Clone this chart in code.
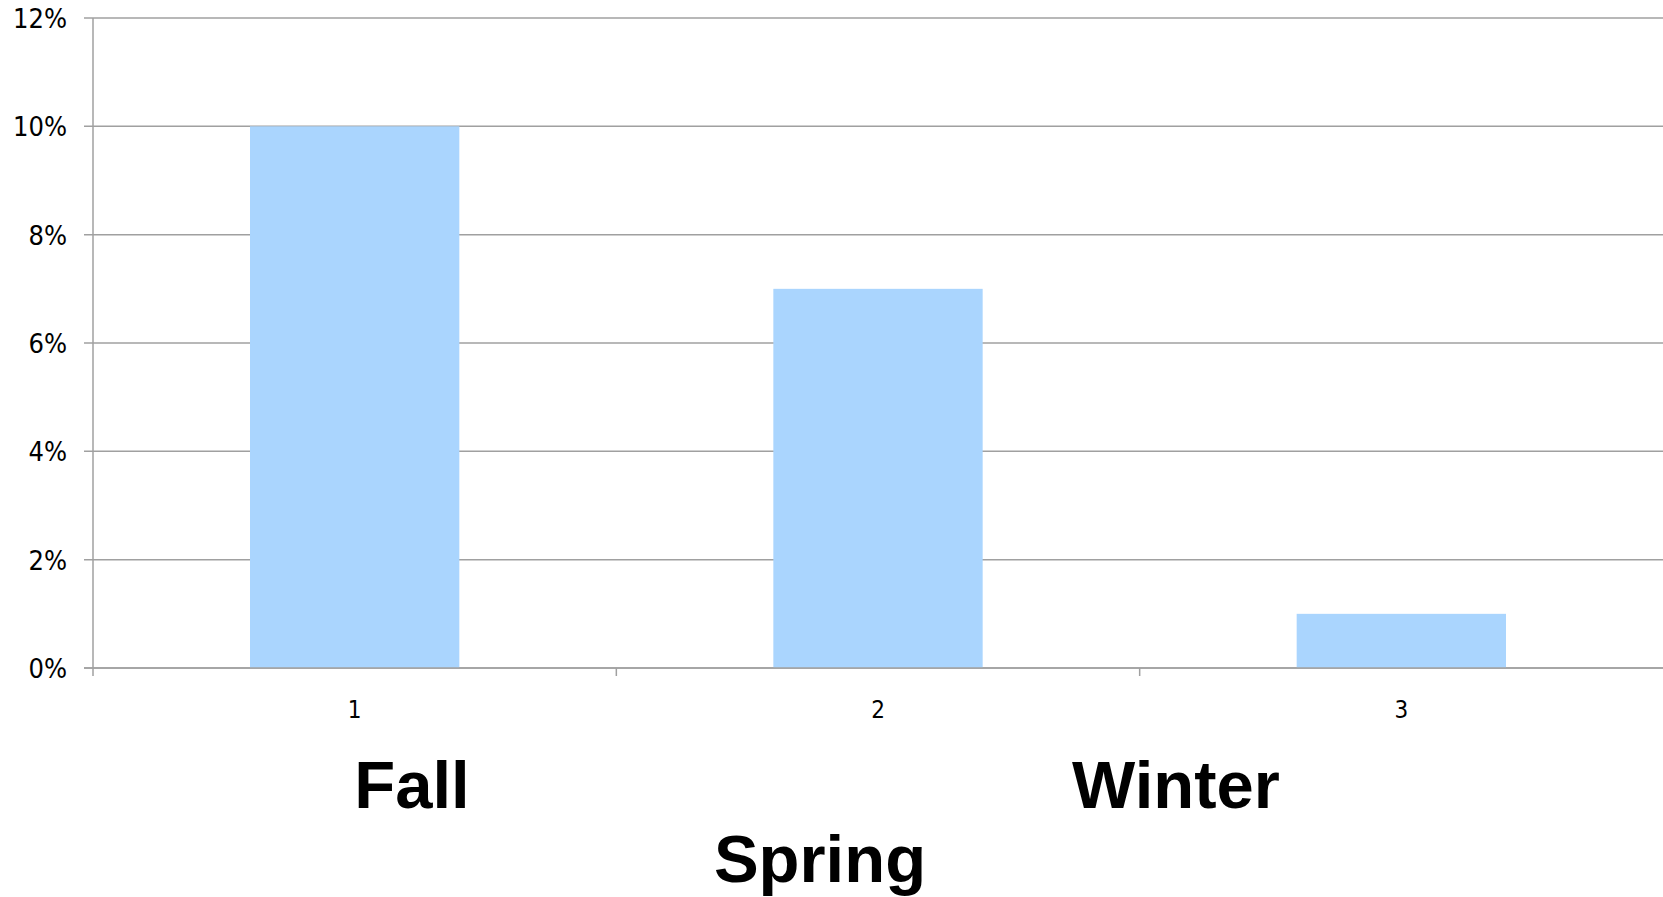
<!DOCTYPE html>
<html>
<head>
<meta charset="utf-8">
<script src="https://cdn.jsdelivr.net/npm/d3@7"></script>
<style>
  body { margin: 0; background: #fff; }
  #chart svg { display: block; }
</style>
</head>
<body>
<div id="chart"></div>
<script>
var categories = ['1', '2', '3'];
var values = [0.10, 0.07, 0.01];
var yTicks = [0, 0.02, 0.04, 0.06, 0.08, 0.10, 0.12];
var seasons = ['Fall', 'Spring', 'Winter'];

var width = 1663,
    height = 897;
var margin = { top: 18, right: 0, bottom: 229, left: 93 };

var svg = d3
    .select('#chart')
    .append('svg')
    .attr('width', width)
    .attr('height', height);

var x = d3
    .scaleBand()
    .domain(categories)
    .range([margin.left, width - margin.right])
    .paddingInner(0)
    .paddingOuter(0);

var y = d3
    .scaleLinear()
    .domain([0, 0.12])
    .range([height - margin.bottom, margin.top]);

var gridColor = '#a0a0a0';

// horizontal gridlines with short outward ticks
svg.append('g')
    .selectAll('line')
    .data(yTicks)
    .enter()
    .append('line')
    .attr('x1', margin.left - 9)
    .attr('x2', width - margin.right)
    .attr('y1', function(d) { return y(d); })
    .attr('y2', function(d) { return y(d); })
    .attr('stroke', gridColor)
    .attr('stroke-width', 1.5);

// bars
var barW = x.bandwidth() * 0.4;
svg.append('g')
    .selectAll('rect')
    .data(values)
    .enter()
    .append('rect')
    .attr('x', function(d, i) { return x(categories[i]) + (x.bandwidth() - barW) / 2; })
    .attr('y', function(d) { return y(d); })
    .attr('width', barW)
    .attr('height', function(d) { return y(0) - y(d); })
    .attr('fill', '#aad5fe');

// baseline redrawn over bars
svg.append('line')
    .attr('x1', margin.left - 9)
    .attr('x2', width - margin.right)
    .attr('y1', y(0))
    .attr('y2', y(0))
    .attr('stroke', gridColor)
    .attr('stroke-width', 1.5);

// y axis line
svg.append('line')
    .attr('x1', margin.left)
    .attr('x2', margin.left)
    .attr('y1', y(0.12))
    .attr('y2', y(0) + 8)
    .attr('stroke', gridColor)
    .attr('stroke-width', 1.5);

// x band boundary ticks
svg.append('g')
    .selectAll('line')
    .data(categories.slice(1))
    .enter()
    .append('line')
    .attr('x1', function(d) { return x(d); })
    .attr('x2', function(d) { return x(d); })
    .attr('y1', y(0))
    .attr('y2', y(0) + 8)
    .attr('stroke', gridColor)
    .attr('stroke-width', 1.5);

// y tick labels
svg.append('g')
    .selectAll('text')
    .data(yTicks)
    .enter()
    .append('text')
    .attr('x', margin.left - 26)
    .attr('y', function(d) { return y(d) + 10; })
    .attr('text-anchor', 'end')
    .style('font-family', 'DejaVu Sans Condensed, DejaVu Sans')
    .style('font-size', '27px')
    .text(function(d) { return d3.format('.0%')(d); });

// x tick labels
svg.append('g')
    .selectAll('text')
    .data(categories)
    .enter()
    .append('text')
    .attr('x', function(d) { return x(d) + x.bandwidth() / 2; })
    .attr('y', y(0) + 50)
    .attr('text-anchor', 'middle')
    .style('font-family', 'DejaVu Sans Condensed, DejaVu Sans')
    .style('font-size', '24px')
    .text(function(d) { return d; });

// season labels (staggered like the original)
var seasonPos = [
    { dx: 412, dy: 808 },
    { dx: 820, dy: 882 },
    { dx: 1176, dy: 808 }
];
svg.append('g')
    .selectAll('text')
    .data(seasons)
    .enter()
    .append('text')
    .attr('x', function(d, i) { return seasonPos[i].dx; })
    .attr('y', function(d, i) { return seasonPos[i].dy; })
    .attr('text-anchor', 'middle')
    .style('font-family', 'Liberation Sans')
    .style('font-weight', 'bold')
    .style('font-size', '67px')
    .text(function(d) { return d; });
</script>
</body>
</html>
